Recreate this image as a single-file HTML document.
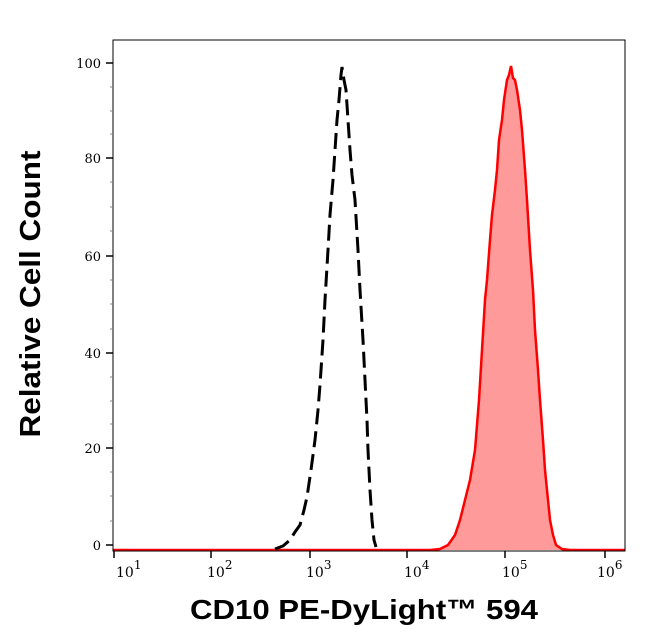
<!DOCTYPE html>
<html><head><style>body{margin:0;background:#fff}svg{display:block}</style></head><body>
<svg width="646" height="641" xmlns="http://www.w3.org/2000/svg" font-family="DejaVu Serif, Liberation Serif, serif">
<rect width="646" height="641" fill="#fff"/>
<path d="M113,550 L430,550 L440,549 L448,545 L455,535 L460,520 L465,500 L470,480 L475,450 L479,400 L482,350 L485,300 L487,280 L490,240 L492,215 L495,190 L497,170 L499,140 L502,120 L504,100 L507,80 L509,75 L511,66 L513,78 L515,80 L517,90 L520,110 L522,130 L525,170 L527,200 L530,250 L533,290 L535,330 L538,370 L540,400 L543,440 L545,470 L548,500 L550,520 L553,535 L556,545 L562,549 L570,550 L625,550" fill="#ff9a9a" stroke="#f00" stroke-width="2.5"/>
<path d="M275,549 L283,546 L290,540 L295,532 L300,525 L304,510 L307,497 L311,470 L315,440 L318,410 L320,385 L323,340 L325,300 L328,250 L330,215 L333,180 L335,150 L337,120 L339,100 L341,75 L342,67 L344,80 L346,90 L348,120 L350,150 L352,175 L355,200 L358,250 L360,290 L363,340 L365,380 L367,420 L368,450 L370,490 L372,520 L374,540 L376,547" fill="none" stroke="#000" stroke-width="3" stroke-dasharray="16,7"/>
<path d="M113,40 H625 V551 H113 Z" fill="none" stroke="#000" stroke-width="1"/>
<g stroke="#000" stroke-width="1.5">
<line x1="106" y1="63" x2="113" y2="63"/><line x1="106" y1="158" x2="113" y2="158"/><line x1="106" y1="256" x2="113" y2="256"/><line x1="106" y1="353" x2="113" y2="353"/><line x1="106" y1="448" x2="113" y2="448"/><line x1="106" y1="545" x2="113" y2="545"/>
<line x1="114" y1="551" x2="114" y2="558"/><line x1="211" y1="551" x2="211" y2="558"/><line x1="310" y1="551" x2="310" y2="558"/><line x1="407" y1="551" x2="407" y2="558"/><line x1="505" y1="551" x2="505" y2="558"/><line x1="605" y1="551" x2="605" y2="558"/>
</g>
<g stroke="#888" stroke-width="1">
<line x1="110" y1="87" x2="113" y2="87"/><line x1="110" y1="111" x2="113" y2="111"/><line x1="110" y1="134" x2="113" y2="134"/>
<line x1="110" y1="182" x2="113" y2="182"/><line x1="110" y1="207" x2="113" y2="207"/><line x1="110" y1="231" x2="113" y2="231"/>
<line x1="110" y1="280" x2="113" y2="280"/><line x1="110" y1="304" x2="113" y2="304"/><line x1="110" y1="329" x2="113" y2="329"/>
<line x1="110" y1="377" x2="113" y2="377"/><line x1="110" y1="401" x2="113" y2="401"/><line x1="110" y1="424" x2="113" y2="424"/>
<line x1="110" y1="472" x2="113" y2="472"/><line x1="110" y1="496" x2="113" y2="496"/><line x1="110" y1="521" x2="113" y2="521"/>
</g>
<g font-size="13" text-anchor="end" fill="#000">
<text x="101" y="68">100</text><text x="101" y="163">80</text><text x="101" y="261">60</text><text x="101" y="358">40</text><text x="101" y="453">20</text><text x="101" y="550">0</text>
</g>
<g font-size="14" fill="#000">
<text x="116" y="577">10<tspan dy="-8" font-size="12">1</tspan></text>
<text x="207" y="577">10<tspan dy="-8" font-size="12">2</tspan></text>
<text x="306" y="577">10<tspan dy="-8" font-size="12">3</tspan></text>
<text x="404" y="577">10<tspan dy="-8" font-size="12">4</tspan></text>
<text x="502" y="577">10<tspan dy="-8" font-size="12">5</tspan></text>
<text x="597" y="577">10<tspan dy="-8" font-size="12">6</tspan></text>
</g>
<text x="364" y="619" font-family="Liberation Sans, sans-serif" font-weight="bold" font-size="28" text-anchor="middle" textLength="348" lengthAdjust="spacingAndGlyphs">CD10 PE-DyLight™ 594</text>
<text transform="translate(40,294) rotate(-90)" font-family="Liberation Sans, sans-serif" font-weight="bold" font-size="29" text-anchor="middle" textLength="287" lengthAdjust="spacingAndGlyphs">Relative Cell Count</text>
</svg>
</body></html>
